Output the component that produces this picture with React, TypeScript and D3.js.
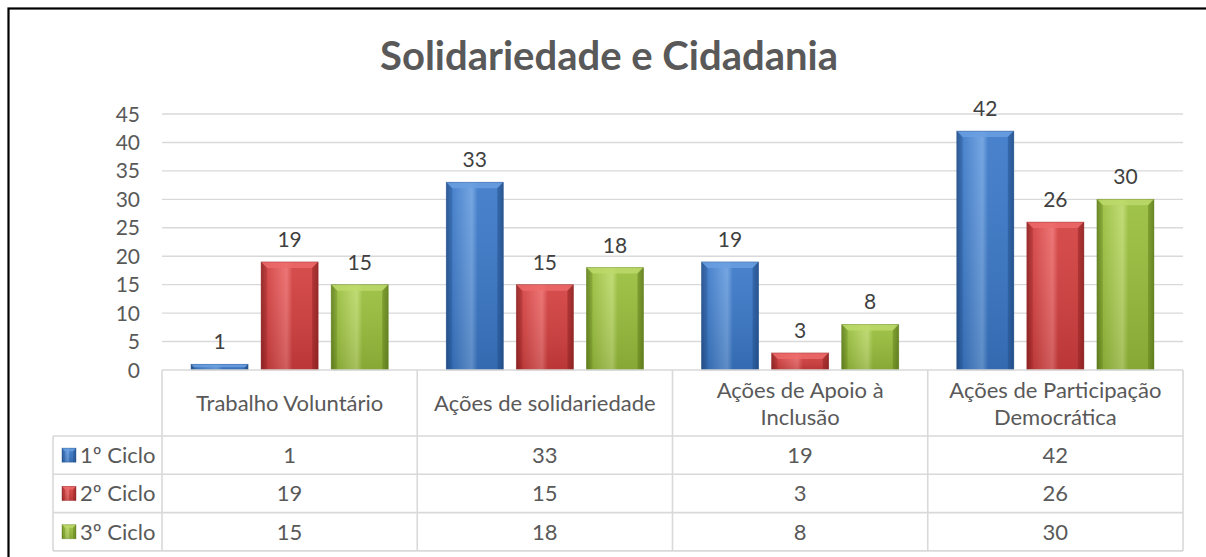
import React from "react";
import * as d3 from "d3";

// chart data
const categories = [
  "Trabalho Voluntário",
  "Ações de solidariedade",
  "Ações de Apoio à Inclusão",
  "Ações de Participação Democrática",
];
const seriesNames = ["1º Ciclo", "2º Ciclo", "3º Ciclo"];
const ciclo1 = [1, 33, 19, 42];
const ciclo2 = [19, 15, 3, 26];
const ciclo3 = [15, 18, 8, 30];
const seriesValues = [ciclo1, ciclo2, ciclo3];
const yTickValues = [0, 5, 10, 15, 20, 25, 30, 35, 40, 45];

const W = 1206;
const H = 557;
const FONT = "Lato, 'Open Sans', sans-serif";
const TEXT = "#595959";

const palette = [
  { base: "#3a78c8", light: "#6a9fe0", dark: "#24528f" },
  { base: "#d33e3e", light: "#ec6a6a", dark: "#952424" },
  { base: "#98be3b", light: "#bcd96a", dark: "#65841f" },
];

const plot = { left: 162, right: 1183, top: 114, bottom: 370 };
const table = { left: 53, headBottom: 436, rowH: 38.3 };

function wrap(label: string): string[] {
  if (label.length <= 22) return [label];
  const i = label.lastIndexOf(" ");
  return [label.slice(0, i), label.slice(i + 1)];
}

function Bevel({ x, y, w, h, i, b }: { x: number; y: number; w: number; h: number; i: number; b: number }) {
  const c = palette[i];
  const bb = Math.min(b, h / 2, w / 2);
  return (
    <g>
      <rect x={x} y={y} width={w} height={h} fill={`url(#gh${i})`} />
      <rect x={x} y={y} width={w} height={h} fill="url(#gv)" />
      <polygon
        points={`${x},${y} ${x + w},${y} ${x + w - bb},${y + bb} ${x + bb},${y + bb}`}
        fill={c.light}
        opacity={0.85}
      />
      <polygon
        points={`${x},${y} ${x + bb},${y + bb} ${x + bb},${y + h} ${x},${y + h}`}
        fill={c.dark}
        opacity={0.35}
      />
      <polygon
        points={`${x + w},${y} ${x + w - bb},${y + bb} ${x + w - bb},${y + h} ${x + w},${y + h}`}
        fill={c.dark}
        opacity={0.55}
      />
      <rect x={x} y={y} width={w} height={h} fill="none" stroke={c.dark} strokeOpacity={0.5} strokeWidth={0.8} />
    </g>
  );
}

export default function App() {
  const x = d3.scaleBand<string>().domain(categories).range([plot.left, plot.right]);
  const xs = d3
    .scaleBand<string>()
    .domain(seriesNames)
    .range([0, x.bandwidth()])
    .paddingInner(0.186)
    .paddingOuter(0.414);
  const y = d3.scaleLinear().domain([0, 45]).range([plot.bottom, plot.top]);

  const rowY = (r: number) => table.headBottom + r * table.rowH;
  const tableBottom = rowY(seriesNames.length);
  const grid = "#d9d9d9";

  return (
    <svg width={W} height={H} style={{ position: "absolute", left: 0, top: 0, background: "#fff" }}>
      <defs>
        {palette.map((c, i) => (
          <linearGradient key={i} id={`gh${i}`} x1="0" x2="1" y1="0" y2="0">
            <stop offset="0%" stopColor={c.dark} />
            <stop offset="10%" stopColor={c.base} />
            <stop offset="45%" stopColor={c.light} stopOpacity={1} />
            <stop offset="55%" stopColor={c.base} />
            <stop offset="90%" stopColor={c.base} />
            <stop offset="100%" stopColor={c.dark} />
          </linearGradient>
        ))}
        <linearGradient id="gv" x1="0" x2="0" y1="0" y2="1">
          <stop offset="0%" stopColor="#fff" stopOpacity={0.08} />
          <stop offset="100%" stopColor="#000" stopOpacity={0.12} />
        </linearGradient>
      </defs>

      <rect x={8.5} y={8.5} width={1400} height={700} fill="none" stroke="#000" strokeWidth={2.2} />

      <text x={609} y={70} textAnchor="middle" fontFamily={FONT} fontWeight="bold" fontSize={40} fill={TEXT}>
        Solidariedade e Cidadania
      </text>

      {/* gridlines and y ticks */}
      {yTickValues.map((t) => (
        <g key={t}>
          {t > 0 && (
            <line x1={plot.left} x2={plot.right} y1={y(t)} y2={y(t)} stroke={grid} strokeWidth={1.4} />
          )}
          <text x={140} y={y(t) + 7.5} textAnchor="end" fontFamily={FONT} fontSize={21} fill={TEXT}>
            {t}
          </text>
        </g>
      ))}

      {/* bars */}
      {categories.map((cat, ci) => (
        <g key={cat}>
          {seriesNames.map((s, si) => {
            const v = seriesValues[si][ci];
            const bx = (x(cat) as number) + (xs(s) as number);
            const by = y(v);
            return (
              <g key={s}>
                <Bevel x={bx} y={by} w={xs.bandwidth()} h={plot.bottom - by} i={si} b={6} />
                <text
                  x={bx + xs.bandwidth() / 2}
                  y={by - 15}
                  textAnchor="middle"
                  fontFamily={FONT}
                  fontSize={21}
                  fill="#404040"
                >
                  {v}
                </text>
              </g>
            );
          })}
        </g>
      ))}

      {/* data table */}
      <g stroke={grid} strokeWidth={1.6} fill="none">
        <line x1={plot.left} x2={plot.right} y1={plot.bottom} y2={plot.bottom} />
        {d3.range(seriesNames.length + 1).map((r) => (
          <line key={r} x1={table.left} x2={plot.right} y1={rowY(r)} y2={rowY(r)} />
        ))}
        <line x1={table.left} x2={table.left} y1={rowY(0)} y2={tableBottom} />
        {categories.map((cat) => (
          <line key={cat} x1={x(cat)} x2={x(cat)} y1={plot.bottom} y2={tableBottom} />
        ))}
        <line x1={plot.right} x2={plot.right} y1={plot.bottom} y2={tableBottom} />
      </g>

      {categories.map((cat) => {
        const lines = wrap(cat);
        const cx = (x(cat) as number) + x.bandwidth() / 2;
        const mid = (plot.bottom + table.headBottom) / 2;
        return (
          <text key={cat} textAnchor="middle" fontFamily={FONT} fontSize={22} fill={TEXT}>
            {lines.map((l, li) => (
              <tspan key={li} x={cx} y={mid + 8 + (li - (lines.length - 1) / 2) * 27}>
                {l}
              </tspan>
            ))}
          </text>
        );
      })}

      {seriesNames.map((s, si) => {
        const cy = rowY(si) + table.rowH / 2;
        return (
          <g key={s}>
            <Bevel x={62} y={cy - 7} w={14} h={14} i={si} b={3} />
            <text x={80} y={cy + 8} fontFamily={FONT} fontSize={22} fill={TEXT}>
              {s}
            </text>
            {categories.map((cat, ci) => (
              <text
                key={cat}
                x={(x(cat) as number) + x.bandwidth() / 2}
                y={cy + 8}
                textAnchor="middle"
                fontFamily={FONT}
                fontSize={22}
                fill={TEXT}
              >
                {seriesValues[si][ci]}
              </text>
            ))}
          </g>
        );
      })}
    </svg>
  );
}
